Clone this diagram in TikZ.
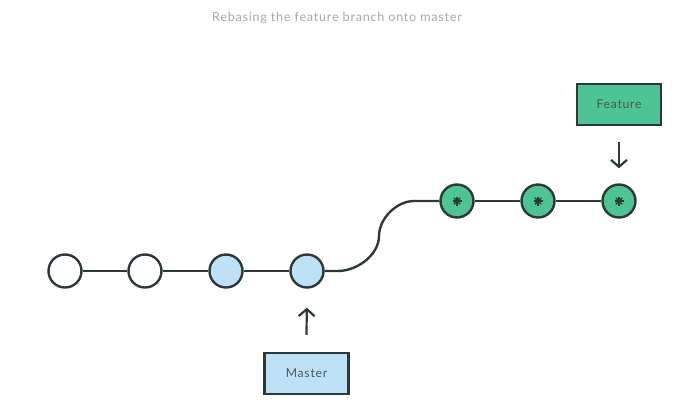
\documentclass[tikz,border=0pt]{standalone}
\usepackage{fontspec}
\usetikzlibrary{arrows.meta}
\setmainfont{Lato}
\newfontfamily\spaced[LetterSpace=6]{Lato}
\definecolor{ink}{HTML}{2E3838}
\definecolor{grn}{HTML}{4CC493}
\definecolor{blu}{HTML}{BDE2F8}
\definecolor{ttl}{HTML}{A8A8A8}
\begin{document}
\begin{tikzpicture}[x=1pt,y=-1pt,
  commit/.style={circle,draw=ink,line width=2.4pt,minimum size=33pt,inner sep=0pt},
  plain/.style={commit,fill=white},
  bluec/.style={commit,fill=blu},
  grnc/.style={commit,fill=grn},
  label/.style={draw=ink,line width=2.2pt,minimum width=84pt,minimum height=41pt,font=\spaced\fontsize{12.2}{14}\selectfont,text=ink!85},
  link/.style={ink,line width=2.4pt},
  pointer/.style={ink,line width=2.2pt,-{Straight Barb[length=7pt,width=16pt]}}]
\useasboundingbox (0,0) rectangle (675,408);
\node[font=\spaced\fontsize{12.6}{14}\selectfont,text=ttl] (title) at (337,18) {Rebasing the feature branch onto master};
\node[plain] (c1) at (65,271) {};
\node[plain] (c2) at (145,271) {};
\node[bluec] (c3) at (226,271) {};
\node[bluec] (c4) at (307,271) {};
\node[grnc] (c5) at (457,201) {};
\node[grnc] (c6) at (538,201) {};
\node[grnc] (c7) at (619,201) {};
\foreach \n in {c5,c6,c7}{
  \foreach \a in {0,45,90,135}{
    \draw[ink,line width=1.4pt] (\n.center) ++(\a:4.5pt) -- ++(\a+180:9pt);
  }
}
\draw[link] (c1) -- (c2);
\draw[link] (c2) -- (c3);
\draw[link] (c3) -- (c4);
\draw[link] (c4) -- (338,271) to[out=0,in=-90,looseness=0.9] (379,236) to[out=90,in=180,looseness=0.9] (414,201) -- (c5);
\draw[link] (c5) -- (c6);
\draw[link] (c6) -- (c7);
\node[label,fill=grn] (feature) at (619,104.5) {Feature};
\node[label,fill=blu] (master) at (306.5,373.5) {Master};
\draw[pointer,shorten >=15pt] (feature.south) ++(0,16) -- (c7.north);
\draw[pointer,shorten >=19pt] (master.north) ++(0,-17) -- (c4.south);
\end{tikzpicture}
\end{document}
